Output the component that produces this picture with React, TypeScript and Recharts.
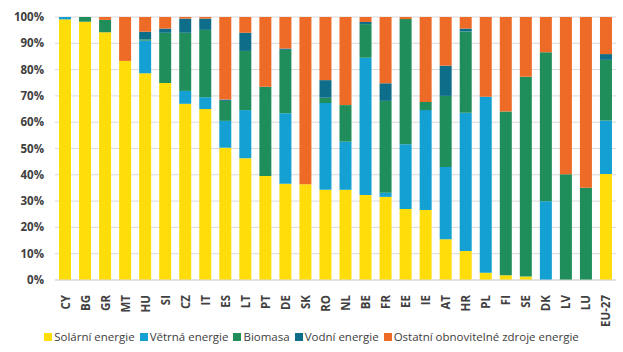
import React from "react";
import { BarChart, Bar, XAxis, YAxis, CartesianGrid, Legend } from "recharts";

const categories = ["CY","BG","GR","MT","HU","SI","CZ","IT","ES","LT","PT","DE","SK","RO","NL","BE","FR","EE","IE","AT","HR","PL","FI","SE","DK","LV","LU","EU-27"];
const solar =   [99.1,98.2,94.2,83.3,78.6,74.9,67.0,65.0,50.3,46.3,39.5,36.6,36.4,34.3,34.3,32.3,31.6,27.0,26.6,15.5,11.0,2.8,1.8,1.3,0,0,0,40.3];
const wind =    [0.9,0,0,0,12.4,0,4.9,4.5,10.2,18.3,0,26.8,0,33.0,18.3,52.2,1.6,24.6,38.0,27.5,52.6,66.9,0,0,29.9,0,0,20.3];
const biomass = [0,1.8,4.7,0,0.5,19.1,22.1,25.6,7.6,22.5,34.0,24.1,0,2.0,13.9,12.8,34.9,47.6,3.1,27.0,30.9,0,62.3,76.0,56.7,40.2,35.1,23.1];
const hydro =   [0,0,0,0,2.9,1.6,5.4,4.3,0.5,6.9,0,0.5,0,6.7,0,0.8,6.7,0,0,11.5,1.1,0,0,0,0,0,0,2.2];
const other =   [0,0,1.1,16.7,5.6,4.4,0.6,0.6,31.4,6.0,26.5,12.0,63.6,24.0,33.5,1.9,25.2,0.8,32.3,18.5,4.4,30.3,35.9,22.7,13.4,59.8,64.9,14.1];
const yTicks = [0,10,20,30,40,50,60,70,80,90,100];

const seriesDefs = [
  { key: "solar", name: "Solární energie", color: "#FFDD0A" },
  { key: "wind", name: "Větrná energie", color: "#14A0D3" },
  { key: "biomass", name: "Biomasa", color: "#1F8E5B" },
  { key: "hydro", name: "Vodní energie", color: "#0E6E8A" },
  { key: "other", name: "Ostatní obnovitelné zdroje energie", color: "#EE6A27" },
];

const data = categories.map((c, i) => ({
  cat: c,
  solar: solar[i],
  wind: wind[i],
  biomass: biomass[i],
  hydro: hydro[i],
  other: other[i],
}));

const FONT = "'Open Sans', sans-serif";

const XTick = (props: any) => {
  const { x, y, payload } = props;
  return (
    <text
      x={x}
      y={y}
      transform={`rotate(-90 ${x} ${y})`}
      textAnchor="end"
      dominantBaseline="central"
      fontFamily={FONT}
      fontSize={11.5}
      fontWeight={700}
      fill="#404040"
    >
      {payload.value}
    </text>
  );
};

const LegendContent = () => (
  <div
    style={{
      display: "flex",
      justifyContent: "center",
      alignItems: "center",
      fontFamily: FONT,
      fontSize: 11.5,
      color: "#404040",
      whiteSpace: "nowrap",
      paddingLeft: 12,
    }}
  >
    {seriesDefs.map((s) => (
      <span key={s.key} style={{ display: "inline-flex", alignItems: "center", marginRight: 5 }}>
        <span style={{ display: "inline-block", width: 8, height: 8, background: s.color, marginRight: 2 }} />
        {s.name}
      </span>
    ))}
  </div>
);

export default function App() {
  return (
    <div style={{ position: "absolute", left: 0, top: 0, width: 623, height: 352, background: "#fff" }}>
      <BarChart
        width={623}
        height={352}
        data={data}
        margin={{ top: 17, right: 7, bottom: 0, left: 0 }}
        barSize={12}
      >
        <CartesianGrid vertical={false} stroke="#D9D9D9" />
        <XAxis
          dataKey="cat"
          interval={0}
          tickLine={false}
          axisLine={{ stroke: "#D9D9D9" }}
          tick={<XTick />}
          tickMargin={9}
          height={49}
        />
        <YAxis
          domain={[0, 100]}
          ticks={yTicks}
          tickFormatter={(v: number) => `${v}%`}
          tickLine={false}
          axisLine={false}
          width={55}
          tickSize={0}
          tickMargin={11}
          tick={{ fontFamily: FONT, fontSize: 11.5, fontWeight: 700, fill: "#404040" }}
          interval={0}
        />
        <Legend verticalAlign="bottom" height={23} content={<LegendContent />} />
        {seriesDefs.map((s) => (
          <Bar
            key={s.key}
            dataKey={s.key}
            name={s.name}
            stackId="a"
            fill={s.color}
            isAnimationActive={false}
          />
        ))}
      </BarChart>
    </div>
  );
}
